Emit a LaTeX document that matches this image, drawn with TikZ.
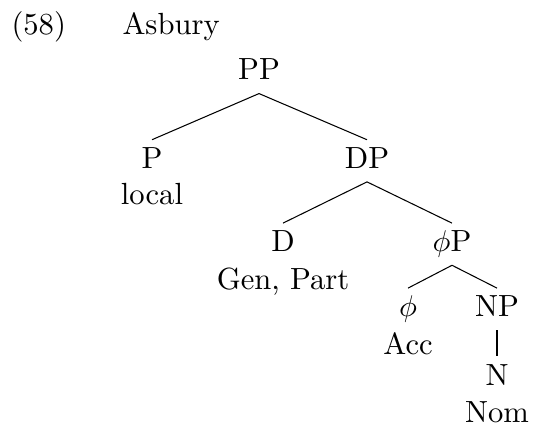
\documentclass[tikz,border=0pt]{standalone}
\usepackage{amsmath}
\usetikzlibrary{positioning}
\tikzset{
  cat/.style={anchor=base, inner xsep=0pt, inner ysep=2.25pt, text height=7.1pt, text depth=2.1pt},
  feat/.style={anchor=base, inner sep=0pt},
}

\begin{document}
\begin{tikzpicture}[x=0.3333pt, y=-0.3333pt, line width=0.35pt, font=\fontsize{10.2}{12}\selectfont]
  \useasboundingbox (0,0) rectangle (533,425);
  \node[feat, anchor=base west] (num) at (11, 35) {(58)};
  \node[feat, anchor=base west] (src) at (122, 35) {Asbury};
  % categories
  \node[cat] (pp) at (259, 80) {PP};
  \node[cat] (p) at (152, 168.3) {P};
  \node[cat] (dp) at (367, 168.3) {DP};
  \node[cat] (d) at (283, 251.7) {D};
  \node[cat] (phip) at (452, 251.7) {$\phi$P};
  \node[cat] (phi) at (408, 316.7) {$\phi$};
  \node[cat] (np) at (497, 316.7) {NP};
  \node[cat] (n) at (497, 385) {N};
  % case features under the heads
  \node[feat] (local) at ([yshift=-12.1pt]p.base) {local};
  \node[feat] (genpart) at ([yshift=-12.7pt]d.base) {Gen, Part};
  \node[feat] (acc) at ([yshift=-12.5pt]phi.base) {Acc};
  \node[feat] (nom) at ([yshift=-12.6pt]n.base) {Nom};
  % branches
  \draw (pp.south) -- (p.north);
  \draw (pp.south) -- (dp.north);
  \draw (dp.south) -- (d.north);
  \draw (dp.south) -- (phip.north);
  \draw (phip.south) -- (phi.north);
  \draw (phip.south) -- (np.north);
  \draw (np.south) -- (n.north);
\end{tikzpicture}
\end{document}
